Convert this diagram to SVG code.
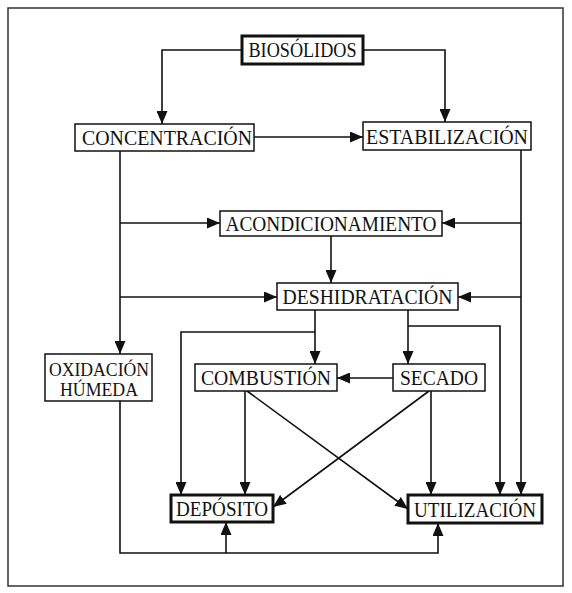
<svg xmlns="http://www.w3.org/2000/svg" width="572" height="593" viewBox="0 0 572 593">
<style>
.box{fill:#fff;stroke:#111;stroke-width:1.5}
.thick{fill:#fff;stroke:#111;stroke-width:3}
.lbl{font-family:"Liberation Serif","DejaVu Serif",serif;font-size:20px;fill:#111;text-anchor:middle}
.sm{font-size:18.5px}
.con{fill:none;stroke:#111;stroke-width:1.6}
</style>
<defs>
<marker id="ah" viewBox="0 0 13 11" refX="13" refY="5.5" markerWidth="13" markerHeight="11" markerUnits="userSpaceOnUse" orient="auto">
<path d="M0,0 L13,5.5 L0,11 z" fill="#111"/>
</marker>
</defs>
<rect x="8" y="8" width="555" height="578" fill="#fff" stroke="#333" stroke-width="1.5"/>
<g id="connectors">
<path class="con" d="M242,50 H162 V124" marker-end="url(#ah)"/>
<path class="con" d="M363,50 H445 V122" marker-end="url(#ah)"/>
<path class="con" d="M254,137 H363" marker-end="url(#ah)"/>
<path class="con" d="M120,151 V354" marker-end="url(#ah)"/>
<path class="con" d="M120,223 H220" marker-end="url(#ah)"/>
<path class="con" d="M120,297 H277" marker-end="url(#ah)"/>
<path class="con" d="M521,150 V495" marker-end="url(#ah)"/>
<path class="con" d="M521,223 H442" marker-end="url(#ah)"/>
<path class="con" d="M521,297 H458" marker-end="url(#ah)"/>
<path class="con" d="M331,236 V283" marker-end="url(#ah)"/>
<path class="con" d="M315,310 V364" marker-end="url(#ah)"/>
<path class="con" d="M315,332 H181 V495" marker-end="url(#ah)"/>
<path class="con" d="M408,310 V364" marker-end="url(#ah)"/>
<path class="con" d="M408,326 H500 V495" marker-end="url(#ah)"/>
<path class="con" d="M393,378 H337" marker-end="url(#ah)"/>
<path class="con" d="M245,391 V495" marker-end="url(#ah)"/>
<path class="con" d="M247,391 L408,509" marker-end="url(#ah)"/>
<path class="con" d="M429,391 L273,507" marker-end="url(#ah)"/>
<path class="con" d="M431,391 V495" marker-end="url(#ah)"/>
<path class="con" d="M120,401 V553 H438 V523" marker-end="url(#ah)"/>
<path class="con" d="M226,553 V522" marker-end="url(#ah)"/>
</g>
<g id="biosolidos"><rect class="thick" x="242" y="36" width="121" height="28"/><text class="lbl" x="302.5" y="57" textLength="108" lengthAdjust="spacingAndGlyphs">BIOSÓLIDOS</text></g>
<g id="concentracion"><rect class="box" x="75" y="124" width="179" height="27"/><text class="lbl" x="167" y="145" textLength="170" lengthAdjust="spacingAndGlyphs">CONCENTRACIÓN</text></g>
<g id="estabilizacion"><rect class="box" x="363" y="122" width="168" height="28"/><text class="lbl" x="447" y="144" textLength="162" lengthAdjust="spacingAndGlyphs">ESTABILIZACIÓN</text></g>
<g id="acondicionamiento"><rect class="box" x="220" y="211" width="222" height="25"/><text class="lbl" x="331" y="231" textLength="211" lengthAdjust="spacingAndGlyphs">ACONDICIONAMIENTO</text></g>
<g id="deshidratacion"><rect class="box" x="277" y="283" width="181" height="27"/><text class="lbl" x="367.5" y="304" textLength="170" lengthAdjust="spacingAndGlyphs">DESHIDRATACIÓN</text></g>
<g id="oxidacion"><rect class="box" x="45" y="354" width="107" height="47"/><text class="lbl sm" x="99" y="376" textLength="100" lengthAdjust="spacingAndGlyphs">OXIDACIÓN</text><text class="lbl sm" x="99" y="396" textLength="78" lengthAdjust="spacingAndGlyphs">HÚMEDA</text></g>
<g id="combustion"><rect class="box" x="195" y="364" width="142" height="27"/><text class="lbl" x="266" y="385" textLength="130" lengthAdjust="spacingAndGlyphs">COMBUSTIÓN</text></g>
<g id="secado"><rect class="box" x="393" y="364" width="92" height="27"/><text class="lbl" x="439" y="385" textLength="78" lengthAdjust="spacingAndGlyphs">SECADO</text></g>
<g id="deposito"><rect class="thick" x="171" y="495" width="102" height="27"/><text class="lbl" x="222" y="516" textLength="92" lengthAdjust="spacingAndGlyphs">DEPÓSITO</text></g>
<g id="utilizacion"><rect class="thick" x="408" y="495" width="134" height="28"/><text class="lbl" x="475" y="517" textLength="122" lengthAdjust="spacingAndGlyphs">UTILIZACIÓN</text></g>
</svg>
